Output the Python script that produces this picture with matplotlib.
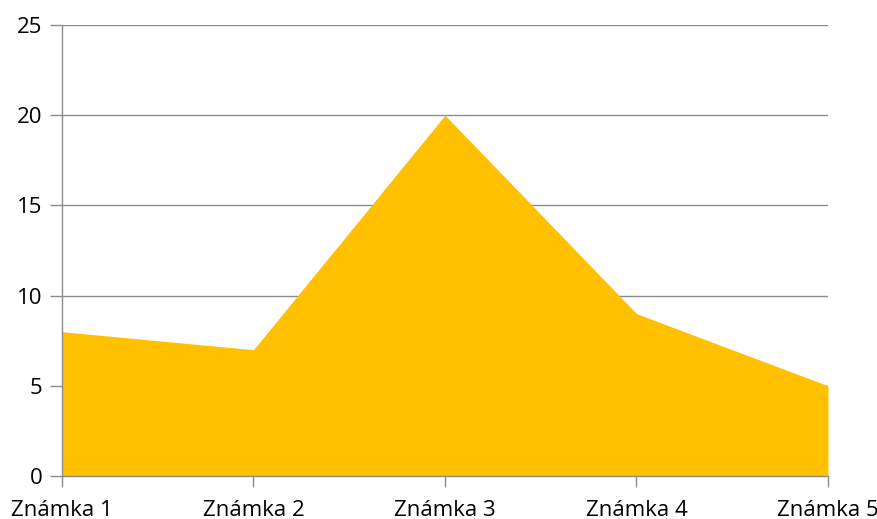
import matplotlib
matplotlib.use("Agg")
import matplotlib.pyplot as plt

categories = ["Známka 1", "Známka 2", "Známka 3", "Známka 4", "Známka 5"]
values = [8, 7, 20, 9, 5]
y_ticks = [0, 5, 10, 15, 20, 25]

plt.rcParams['font.family'] = ['Open Sans', 'DejaVu Sans']

fig = plt.figure(figsize=(8.78, 5.19), dpi=100)
ax = fig.add_axes([62 / 878, 1 - 476 / 519, (828 - 62) / 878, (476 - 25) / 519])

x = list(range(len(categories)))
ax.fill_between(x, values, 0, color='#FFC000', linewidth=0, zorder=2)

ax.set_xlim(0, len(categories) - 1)
ax.set_ylim(0, 25)
ax.set_yticks(y_ticks)
ax.set_xticks(x)
ax.set_xticklabels(categories)

grid_col = '#8c8c8c'
ax.yaxis.grid(True, color=grid_col, linewidth=1, zorder=1)
for s in ['top', 'right']:
    ax.spines[s].set_visible(False)
for s in ['left', 'bottom']:
    ax.spines[s].set_color(grid_col)
    ax.spines[s].set_linewidth(1)
ax.tick_params(axis='both', colors=grid_col, width=1,
               labelcolor='black', labelsize=16)
ax.tick_params(axis='x', length=8, pad=9)
ax.tick_params(axis='y', length=9, pad=5)

fig.savefig("out.png", dpi=100)
